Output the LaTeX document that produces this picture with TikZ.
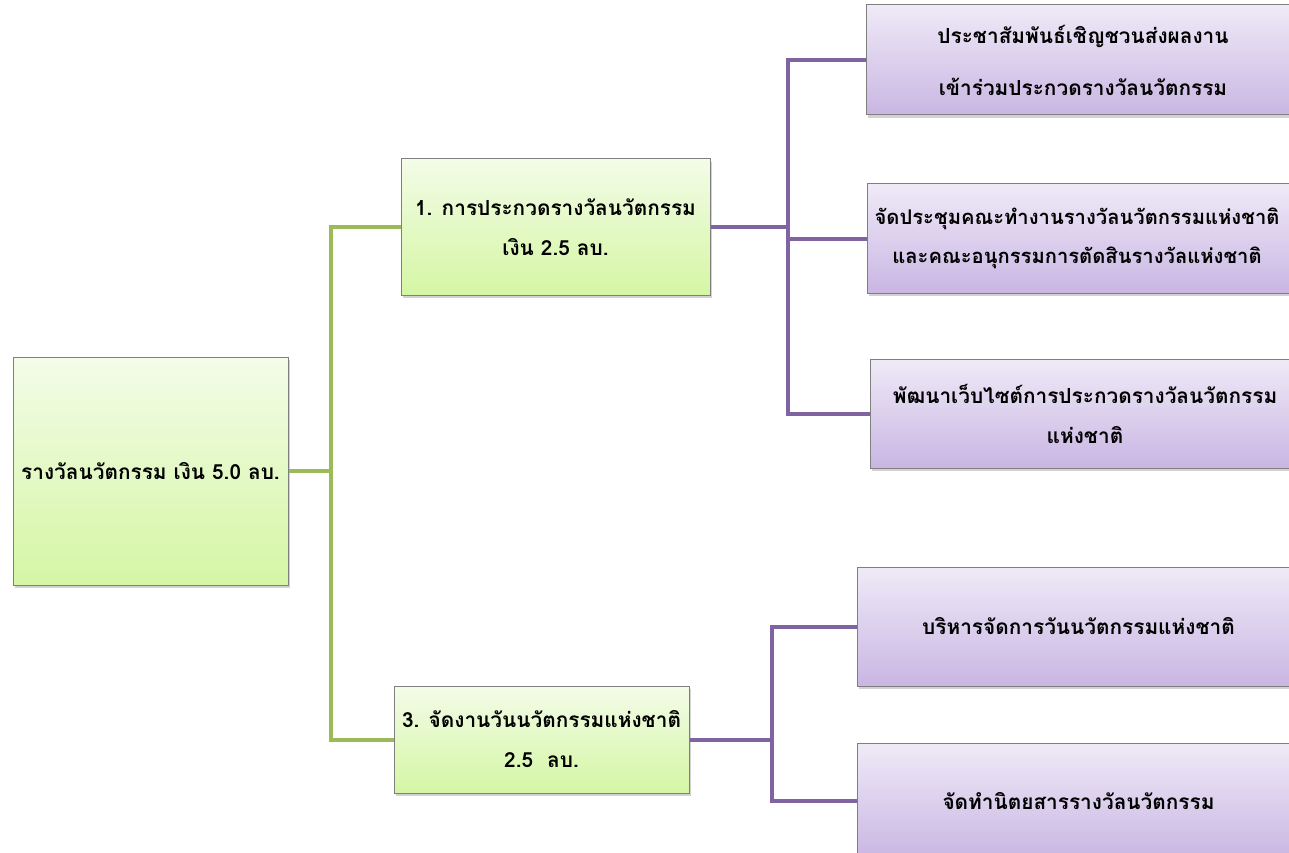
\documentclass[tikz,border=0pt]{standalone}
\usepackage{fontspec}
\newfontfamily\thaifont[Script=Thai]{Loma}
\usetikzlibrary{shadows}
\definecolor{gtop}{HTML}{F3FCE8}
\definecolor{gbot}{HTML}{D5F6A4}
\definecolor{ptop}{HTML}{EFEAF7}
\definecolor{pbot}{HTML}{C9B6E3}
\definecolor{gln}{HTML}{9BBB59}
\definecolor{pln}{HTML}{8064A2}
\definecolor{bdr}{HTML}{7F7F7F}
\tikzset{
  box/.style={draw=bdr, line width=1pt, shading=axis, drop shadow={shadow xshift=2pt, shadow yshift=-3pt, opacity=0.35},
    align=center, inner sep=0pt, font=\thaifont\bfseries\fontsize{20.8}{40}\selectfont},
  gbox/.style={box, top color=gtop, bottom color=gbot},
  pbox/.style={box, top color=ptop, bottom color=pbot},
  gline/.style={draw=gln, line width=4pt},
  pline/.style={draw=pln, line width=4pt},
}
\begin{document}
\begin{tikzpicture}[x=1pt,y=-1pt]
\clip (0,0) rectangle (1289,853);
\fill[white] (0,0) rectangle (1289,853);
\coordinate (gx) at (331,471);
\coordinate (px) at (788,0);
\coordinate (qx) at (772,0);
\node[gbox, minimum width=275pt, minimum height=228pt] (root) at (150.5,471) {รางวัลนวัตกรรม เงิน 5.0 ลบ.};
\node[gbox, minimum width=309pt, minimum height=136pt] (b1) at (555.5,227) {1. การประกวดรางวัลนวัตกรรม\\เงิน 2.5 ลบ.};
\node[gbox, minimum width=295pt, minimum height=107pt] (b3) at (541.5,739.5) {3. จัดงานวันนวัตกรรมแห่งชาติ\\2.5~~ลบ.};
\node[pbox, minimum width=434pt, minimum height=110pt, font=\thaifont\bfseries\fontsize{20.8}{52}\selectfont] (p1) at (1083,60) {ประชาสัมพันธ์เชิญชวนส่งผลงาน\\เข้าร่วมประกวดรางวัลนวัตกรรม};
\node[pbox, minimum width=433pt, minimum height=109pt, font=\thaifont\bfseries\fontsize{20.2}{39}\selectfont] (p2) at (1083.5,238.5) {จัดประชุมคณะทำงานรางวัลนวัตกรรมแห่งชาติ\hspace*{13pt}\\และคณะอนุกรรมการตัดสินรางวัลแห่งชาติ\hspace*{13pt}};
\node[pbox, minimum width=430pt, minimum height=109pt] (p3) at (1085,413.5) {พัฒนาเว็บไซต์การประกวดรางวัลนวัตกรรม\\แห่งชาติ};
\node[pbox, minimum width=443pt, minimum height=119pt] (p4) at (1078.5,626.5) {บริหารจัดการวันนวัตกรรมแห่งชาติ};
\node[pbox, minimum width=443pt, minimum height=116pt] (p5) at (1078.5,801) {จัดทำนิตยสารรางวัลนวัตกรรม};
% green connectors
\draw[gline] (root.east) -- (gx);
\draw[gline] (b1.west) -- (b1.west -| gx) -- (b3.west -| gx) -- (b3.west);
% purple connectors (upper)
\draw[pline] (b1.east) -- (b1.east -| px);
\draw[pline] (p1.west) -- (p1.west -| px) -- (p3.west -| px) -- (p3.west);
\draw[pline] (p2.west) -- (p2.west -| px);
% purple connectors (lower)
\draw[pline] (b3.east) -- (b3.east -| qx);
\draw[pline] (p4.west) -- (p4.west -| qx) -- (p5.west -| qx) -- (p5.west);
\end{tikzpicture}
\end{document}
